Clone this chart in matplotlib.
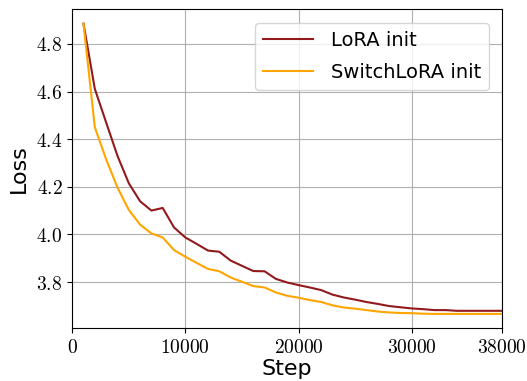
import matplotlib
matplotlib.use("Agg")
import matplotlib.pyplot as plt
from matplotlib.ticker import FuncFormatter

# Data
steps = list(range(1000, 39000, 1000))

lora_loss = [4.885, 4.611, 4.47, 4.33, 4.215, 4.139, 4.100, 4.111, 4.029, 3.987,
             3.960, 3.932, 3.927, 3.890, 3.868, 3.846, 3.845, 3.813, 3.798, 3.787,
             3.777, 3.766, 3.747, 3.735, 3.726, 3.716, 3.708, 3.699, 3.694, 3.689,
             3.686, 3.682, 3.682, 3.679, 3.679, 3.679, 3.679, 3.679]

switch_loss = [4.884, 4.450, 4.315, 4.197, 4.103, 4.041, 4.004, 3.987, 3.934, 3.906,
               3.880, 3.855, 3.845, 3.819, 3.801, 3.783, 3.777, 3.756, 3.742, 3.734,
               3.724, 3.716, 3.702, 3.693, 3.688, 3.682, 3.676, 3.672, 3.670, 3.669,
               3.667, 3.666, 3.666, 3.666, 3.666, 3.666, 3.666, 3.666]

x_ticks = [0, 10000, 20000, 30000, 38000]

plt.rcParams["mathtext.fontset"] = "cm"

fig = plt.figure(figsize=(5.27, 3.81), dpi=100)
ax = fig.add_axes([0.137, 0.138, 0.816, 0.838])

ax.plot(steps, lora_loss, color="#921a1d", lw=1.5, label="LoRA init")
ax.plot(steps, switch_loss, color="orange", lw=1.5, label="SwitchLoRA init")

ax.set_xlim(0, 38000)
ax.set_xticks(x_ticks)
ax.set_yticks([3.8, 4.0, 4.2, 4.4, 4.6, 4.8])
ax.xaxis.set_major_formatter(FuncFormatter(lambda v, p: f"${v:.0f}$"))
ax.yaxis.set_major_formatter(FuncFormatter(lambda v, p: f"${v:.1f}$"))
ax.tick_params(labelsize=14)
ax.grid(True, color="#b0b0b0", lw=0.8)

ax.set_xlabel("Step", fontsize=16, labelpad=1)
ax.set_ylabel("Loss", fontsize=16, labelpad=5)
ax.legend(loc="upper right", fontsize=14, handlelength=2.6, handletextpad=0.9,
          labelspacing=0.7, borderaxespad=0.7)

fig.savefig("out.png", dpi=100)
